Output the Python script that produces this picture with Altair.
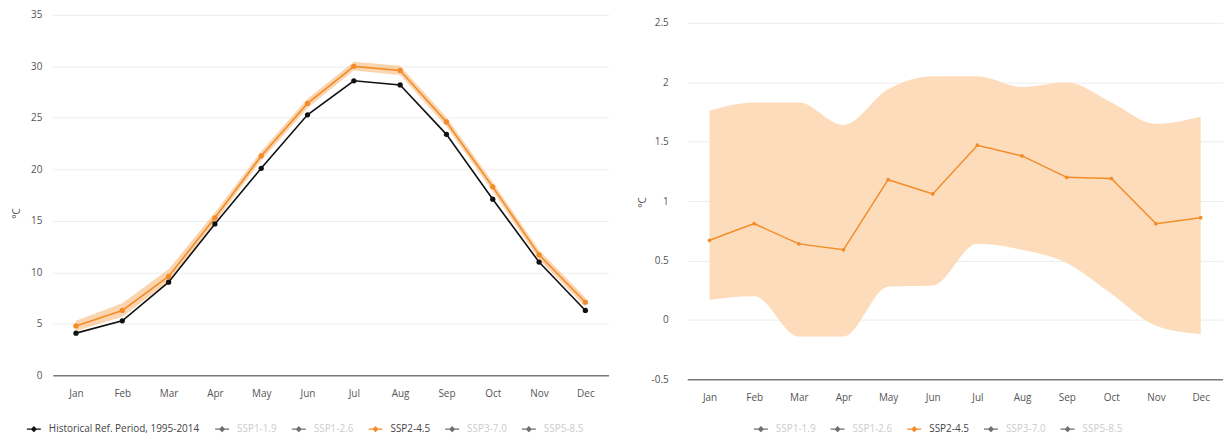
import altair as alt
import pandas as pd

months = ["Jan", "Feb", "Mar", "Apr", "May", "Jun", "Jul", "Aug", "Sep", "Oct", "Nov", "Dec"]

# Left panel: monthly mean temperature (°C)
hist_vals = [4.1, 5.3, 9.05, 14.7, 20.1, 25.3, 28.6, 28.2, 23.4, 17.1, 11.0, 6.3]
ssp245_vals = [4.8, 6.3, 9.6, 15.3, 21.3, 26.4, 30.0, 29.6, 24.6, 18.3, 11.7, 7.1]
ssp245_low = [4.3, 5.7, 9.1, 14.85, 20.85, 25.95, 29.6, 29.15, 24.15, 17.85, 11.25, 6.65]
ssp245_high = [5.3, 7.0, 10.3, 15.8, 21.75, 26.85, 30.45, 30.05, 25.05, 18.75, 12.15, 7.55]

# Right panel: change vs. reference period (°C)
delta_vals = [0.67, 0.81, 0.64, 0.59, 1.18, 1.06, 1.47, 1.38, 1.20, 1.19, 0.81, 0.86]
delta_low = [0.17, 0.20, -0.14, -0.14, 0.28, 0.29, 0.64, 0.59, 0.48, 0.22, -0.05, -0.12]
delta_high = [1.76, 1.83, 1.83, 1.64, 1.94, 2.05, 2.05, 1.96, 2.00, 1.83, 1.65, 1.71]

hist_name = "Historical Ref. Period, 1995-2014"
scenarios = ["SSP1-1.9", "SSP1-2.6", "SSP2-4.5", "SSP3-7.0", "SSP5-8.5"]
scenario_colors = ["#6f6f6f", "#6f6f6f", "#f28c28", "#6f6f6f", "#6f6f6f"]
left_ticks = [0, 5, 10, 15, 20, 25, 30, 35]
right_ticks = [-0.5, 0, 0.5, 1, 1.5, 2, 2.5]

FONT = "Open Sans"
SYMBOL = "M-1,-0.09H1V0.09H-1Z M-0.45,0L0,-0.45L0.45,0L0,0.45Z"
ACTIVE = [hist_name, "SSP2-4.5"]
label_color_expr = "indexof(['" + "','".join(ACTIVE) + "'], datum.label) >= 0 ? '#444444' : '#cccccc'"

left_lines = pd.DataFrame({
    "month": months * 2,
    "value": hist_vals + ssp245_vals,
    "series": [hist_name] * 12 + ["SSP2-4.5"] * 12,
})
left_band = pd.DataFrame({"month": months, "low": ssp245_low, "high": ssp245_high})
right_line = pd.DataFrame({"month": months, "value": delta_vals, "series": ["SSP2-4.5"] * 12})
right_band = pd.DataFrame({"month": months, "low": delta_low, "high": delta_high})


def x_enc():
    return alt.X(
        "month:N", sort=months, title=None,
        axis=alt.Axis(labelAngle=0, ticks=False, domainColor="#7a7a7a", domainWidth=1.5,
                      labelPadding=13, labelFont=FONT, labelFontSize=10, labelColor="#555555",
                      grid=False),
    )


def legend(x, y):
    return alt.Legend(
        orient="none", legendX=x, legendY=y, direction="horizontal", title=None,
        labelFont=FONT, labelFontSize=10, labelColor={"expr": label_color_expr},
        symbolType=SYMBOL, symbolSize=196, symbolStrokeWidth=0,
        labelOffset=8, columnPadding=15,
    )


# ---------- left ----------
ly = alt.Axis(values=left_ticks, ticks=False, domain=False, gridColor="#ececec",
              labelPadding=11, labelFont=FONT, labelFontSize=10, labelColor="#555555",
              title="°C", titleFont=FONT, titleFontSize=10, titleColor="#555555",
              titleFontWeight="normal", titleAngle=-90, titleX=-36, titleY=199,
              titleAlign="center", titleBaseline="middle")
lscale = alt.Scale(domain=[0, 35], nice=False, zero=False)

left_color = alt.Color(
    "series:N",
    scale=alt.Scale(domain=[hist_name] + scenarios, range=["#111111"] + scenario_colors),
    legend=legend(-26, 409),
)

lband = alt.Chart(left_band).mark_area(color="#f8b36e", opacity=0.55).encode(
    x=x_enc(), y=alt.Y("low:Q", scale=lscale, axis=ly), y2="high:Q"
)
llines = alt.Chart(left_lines).mark_line(strokeWidth=1.6).encode(
    x=x_enc(), y=alt.Y("value:Q", scale=lscale, axis=ly),
    color=left_color,
    detail="series:N",
)
lpoints = alt.Chart(left_lines).mark_point(filled=True, size=28, opacity=1).encode(
    x=x_enc(), y=alt.Y("value:Q", scale=lscale, axis=ly), color=left_color,
)
left = alt.layer(lband, llines, lpoints).properties(width=558, height=362)

# ---------- right ----------
ry = alt.Axis(values=right_ticks, ticks=False, domain=False, gridColor="#ececec",
              labelPadding=19, labelFont=FONT, labelFontSize=10, labelColor="#555555",
              labelExpr="datum.value + ''",
              title="°C", titleFont=FONT, titleFontSize=10, titleColor="#555555",
              titleFontWeight="normal", titleAngle=-90, titleX=-45, titleY=188,
              titleAlign="center", titleBaseline="middle")
rscale = alt.Scale(domain=[-0.5, 2.567], nice=False, zero=False)

right_color = alt.Color(
    "series:N",
    scale=alt.Scale(domain=scenarios, range=scenario_colors),
    legend=legend(67, 409),
)

rband = alt.Chart(right_band).mark_area(color="#fddcbb", opacity=1, interpolate="monotone").encode(
    x=x_enc(), y=alt.Y("low:Q", scale=rscale, axis=ry), y2="high:Q"
)
rline = alt.Chart(right_line).mark_line(strokeWidth=1.5).encode(
    x=x_enc(), y=alt.Y("value:Q", scale=rscale, axis=ry), color=right_color,
)
rpoints = alt.Chart(right_line).mark_point(filled=True, size=14, opacity=1).encode(
    x=x_enc(), y=alt.Y("value:Q", scale=rscale, axis=ry), color=right_color,
)
right = alt.layer(rband, rline, rpoints).properties(width=538, height=366)

chart = (
    alt.hconcat(left, right, spacing=79, bounds="flush")
    .resolve_scale(color="independent", x="independent", y="independent")
    .resolve_legend(color="independent")
    .configure(padding={"left": 4, "top": 1, "right": 0, "bottom": 0}, font=FONT)
    .configure_view(stroke=None)
)

chart.save("out.html", embed_options={"renderer": "svg", "actions": False})
